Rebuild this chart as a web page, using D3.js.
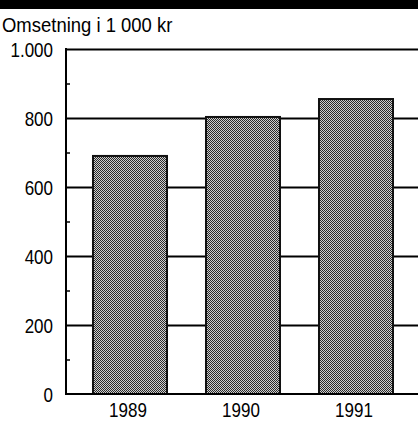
<!DOCTYPE html>
<html><head><meta charset="utf-8">
<script src="https://cdn.jsdelivr.net/npm/d3@7"></script>
<style>
html,body{margin:0;padding:0;background:#fff;}
svg{display:block;}
text{font-family:"Liberation Sans",Arial,Helvetica,sans-serif;fill:#000;}
</style></head>
<body>
<script>
const years = ["1989", "1990", "1991"];
const values = [690, 803, 855];
const majorTicks = [0, 200, 400, 600, 800, 1000];
const minorTicks = [100, 300, 500, 700, 900];
const title = "Omsetning i 1 000 kr";

const W = 418, H = 422;
const SX = 0.81; // horizontal condensing for numbers (narrow Helvetica look)
const svg = d3.select("body").append("svg").attr("width", W).attr("height", H);

const defs = svg.append("defs");
const pat = defs.append("pattern").attr("id", "dots").attr("width", 2).attr("height", 2)
  .attr("patternUnits", "userSpaceOnUse");
pat.append("rect").attr("width", 2).attr("height", 2).attr("fill", "#cfcfcf");
pat.append("rect").attr("width", 1).attr("height", 1).attr("fill", "#2a2a2a");
pat.append("rect").attr("x", 1).attr("y", 1).attr("width", 1).attr("height", 1).attr("fill", "#2a2a2a");

// top black band
svg.append("rect").attr("x", 0).attr("y", 0).attr("width", W).attr("height", 9).attr("fill", "#000");

svg.append("text").attr("transform", "translate(2,32) scale(0.88,1)").attr("font-size", 21).text(title);

const x0 = 66, yTop = 49, yBot = 394;
const x = d3.scaleBand().domain(years).range([73.5, 412.5]).paddingInner(0.345).paddingOuter(0.1725);
const y = d3.scaleLinear().domain([0, 1000]).range([yBot, yTop]);

const loc = d3.formatLocale({decimal: ",", thousands: ".", grouping: [3], currency: ["", ""]});
const fmt = loc.format(",d");

// gridlines
const grid = svg.append("g").attr("transform", `translate(${x0},0)`)
  .call(d3.axisRight(y).tickValues(majorTicks.filter(v => v > 0)).tickSize(W - x0).tickFormat(""));
grid.select(".domain").remove();
grid.selectAll(".tick line").attr("stroke", "#000").attr("stroke-width", 2);

// bars
svg.append("g").selectAll("rect").data(years).join("rect")
  .attr("x", d => x(d))
  .attr("y", (d, i) => y(values[i]))
  .attr("width", x.bandwidth())
  .attr("height", (d, i) => y(0) - y(values[i]))
  .attr("fill", "url(#dots)")
  .attr("stroke", "#111").attr("stroke-width", 2);

// minor ticks
const minor = svg.append("g").attr("transform", `translate(${x0},0)`)
  .call(d3.axisRight(y).tickValues(minorTicks).tickSize(4).tickFormat(""));
minor.select(".domain").remove();
minor.selectAll(".tick line").attr("stroke", "#000").attr("stroke-width", 1.5);

// y axis labels
const yAx = svg.append("g").attr("transform", `translate(${x0},0)`)
  .call(d3.axisLeft(y).tickValues(majorTicks).tickSize(0).tickPadding(13).tickFormat(fmt));
yAx.select(".domain").remove();
yAx.selectAll("text").attr("font-size", 21).attr("font-family", null).attr("dy", "0.36em")
  .attr("x", -13 / SX).attr("transform", `scale(${SX},1)`);

// axis lines
svg.append("line").attr("x1", x0).attr("x2", x0).attr("y1", yTop - 1).attr("y2", yBot + 1)
  .attr("stroke", "#000").attr("stroke-width", 2);
svg.append("line").attr("x1", x0).attr("x2", W).attr("y1", yBot).attr("y2", yBot)
  .attr("stroke", "#000").attr("stroke-width", 2);

// x axis labels
const xAx = svg.append("g").attr("transform", `translate(-2,${yBot})`)
  .call(d3.axisBottom(x).tickSize(0).tickPadding(0));
xAx.select(".domain").remove();
xAx.selectAll("text").attr("font-size", 21).attr("font-family", null)
  .attr("y", 23).attr("dy", null).attr("transform", `scale(${SX},1)`);
xAx.selectAll(".tick").each(function() {
  const t = d3.select(this);
  const tx = +t.attr("transform").match(/translate\(([-\d.]+)/)[1];
  t.select("text").attr("x", 0);
});
</script>
</body></html>
